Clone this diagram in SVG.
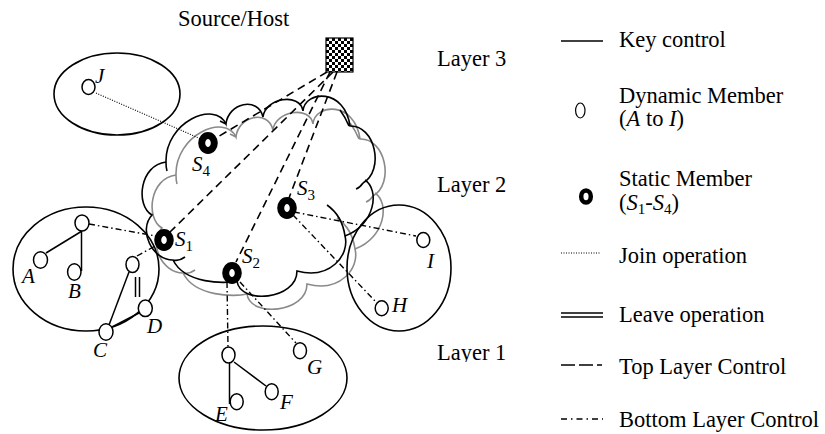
<svg xmlns="http://www.w3.org/2000/svg" width="825" height="434" viewBox="0 0 825 434">
  <defs>
    <pattern id="checker" x="326" y="38" width="6" height="6" patternUnits="userSpaceOnUse">
      <rect width="6" height="6" fill="#fff"/>
      <rect width="3" height="3" fill="#000"/>
      <rect x="3" y="3" width="3" height="3" fill="#000"/>
    </pattern>
    <clipPath id="clipLayer1">
      <rect x="430" y="340" width="100" height="22"/>
    </clipPath>
    <path id="cloud" d="M166,162 C165,122 215,100 226,124 C228,103 258,96 263,117 C265,98 300,92 303,111 C305,90 345,88 350,126 C375,125 385,170 363,183 M365,180 C380,190 375,225 345,236 C350,255 330,280 297,271 C297,300 240,305 237,281 C225,284 185,284 173,260 C152,260 138,230 152,215 C135,205 140,165 166,162 M167,171 C166,168 166,165 166,162 M327,205 C337,212 343,222 345,236 M363,183 C361,186 359,188 356,189 M173,260 C177,261 181,260 185,257 M220,121 C222,122 224,123 226,124 M340,110 C343,114 346,119 349,126"/>
  </defs>
  <style>
    text { font-family: "Liberation Serif", "Times New Roman", serif; fill: #000; }
    .lbl { font-size: 22.5px; }
    .it { font-style: italic; }
    .node-label { font-size: 21px; font-style: italic; }
    .sub { font-size: 15px; font-style: normal; }
    .group { fill: none; stroke: #000; stroke-width: 1.6; }
    .dyn { fill: #fff; stroke: #000; stroke-width: 1.5; }
    .stat { fill: #fff; stroke: #000; stroke-width: 7; }
    .key { fill: none; stroke: #000; stroke-width: 1.5; }
    .leave { fill: none; stroke: #000; stroke-width: 1.5; }
    .join { fill: none; stroke: #000; stroke-width: 1.1; stroke-dasharray: 1 1.5; }
    .top { fill: none; stroke: #000; stroke-width: 1.6; stroke-dasharray: 8 5; }
    .bottom { fill: none; stroke: #000; stroke-width: 1.4; stroke-dasharray: 6 3 1.5 3; }
    .cloud-gray { fill: none; stroke: #8a8a8a; stroke-width: 1.6; }
    .cloud-black { fill: none; stroke: #000; stroke-width: 1.6; }
  </style>

  <rect width="825" height="434" fill="#fff"/>

  <!-- Layer 2 cloud: grey outline behind, black outline in front -->
  <g id="cloud-layer">
    <use href="#cloud" class="cloud-gray" transform="translate(10,13)"/>
    <use href="#cloud" class="cloud-black"/>
  </g>

  <!-- Member groups -->
  <g id="group-J">
    <ellipse class="group" cx="117" cy="94" rx="63" ry="41"/>
  </g>
  <g id="group-ABCD">
    <ellipse class="group" cx="86" cy="269" rx="73" ry="62"/>
  </g>
  <g id="group-HI">
    <ellipse class="group" cx="399" cy="268" rx="52" ry="63"/>
  </g>
  <g id="group-EFG">
    <ellipse class="group" cx="263" cy="378" rx="84" ry="52"/>
  </g>

  <!-- Connectors -->
  <g id="connectors">
    <!-- top layer control from the source -->
    <line class="top" x1="327" y1="72" x2="216" y2="138"/>
    <line class="top" x1="333" y1="72" x2="170" y2="232"/>
    <line class="top" x1="330" y1="72" x2="236" y2="262"/>
    <line class="top" x1="337" y1="72" x2="289" y2="198"/>
    <!-- join operation -->
    <line class="join" x1="96" y1="93" x2="201" y2="139"/>
    <!-- bottom layer control -->
    <line class="bottom" x1="89" y1="224" x2="156" y2="236"/>
    <line class="bottom" x1="137" y1="256" x2="157" y2="245"/>
    <line class="bottom" x1="227" y1="282" x2="228" y2="347"/>
    <line class="bottom" x1="240" y1="282" x2="296" y2="343"/>
    <line class="bottom" x1="294" y1="212" x2="416" y2="236"/>
    <line class="bottom" x1="293" y1="215" x2="376" y2="302"/>
    <!-- key control -->
    <line class="key" x1="82" y1="231" x2="46" y2="253"/>
    <line class="key" x1="81.5" y1="231" x2="81.5" y2="271"/>
    <line class="key" x1="109" y1="325" x2="129" y2="272"/>
    <line class="key" x1="112" y1="327" x2="139" y2="313"/>
    <line class="key" x1="229.5" y1="363" x2="229.5" y2="404"/>
    <line class="key" x1="234" y1="362" x2="266" y2="386"/>
    <!-- leave operation -->
    <line class="leave" x1="135.5" y1="277" x2="135.5" y2="297"/>
    <line class="leave" x1="139.5" y1="277" x2="139.5" y2="297"/>
  </g>

  <!-- Source / host -->
  <g id="host">
    <rect x="326" y="38" width="27" height="34" fill="url(#checker)" stroke="#000" stroke-width="1.2"/>
    <text class="lbl" x="178" y="26">Source/Host</text>
  </g>

  <!-- Static members -->
  <g id="S4">
    <ellipse class="stat" cx="208" cy="143" rx="6.3" ry="7.5"/>
    <text class="node-label" x="192" y="171" font-size="22">S<tspan class="sub" dy="5">4</tspan></text>
  </g>
  <g id="S1">
    <ellipse class="stat" cx="164" cy="240" rx="6.3" ry="7.5"/>
    <text class="node-label" x="175" y="246">S<tspan class="sub" dy="5">1</tspan></text>
  </g>
  <g id="S2">
    <ellipse class="stat" cx="232" cy="273" rx="6.3" ry="7.5"/>
    <text class="node-label" x="242" y="263">S<tspan class="sub" dy="5">2</tspan></text>
  </g>
  <g id="S3">
    <ellipse class="stat" cx="287" cy="208" rx="6.3" ry="7.5"/>
    <text class="node-label" x="297" y="195">S<tspan class="sub" dy="5">3</tspan></text>
  </g>

  <!-- Dynamic members -->
  <g id="J">
    <ellipse class="dyn" cx="88.5" cy="87" rx="6.5" ry="7.5"/>
    <text class="node-label" x="95" y="83">J</text>
  </g>
  <g id="N1">
    <ellipse class="dyn" cx="82" cy="223" rx="7" ry="8"/>
  </g>
  <g id="A">
    <ellipse class="dyn" cx="40.5" cy="260" rx="7" ry="8.3"/>
    <text class="node-label" x="22" y="283">A</text>
  </g>
  <g id="B">
    <ellipse class="dyn" cx="74.3" cy="272" rx="6.7" ry="8.3"/>
    <text class="node-label" x="68" y="298">B</text>
  </g>
  <g id="N2">
    <ellipse class="dyn" cx="132.5" cy="264.5" rx="6.5" ry="8"/>
  </g>
  <g id="C">
    <ellipse class="dyn" cx="106" cy="332" rx="7" ry="8.3"/>
    <text class="node-label" x="93" y="357">C</text>
  </g>
  <g id="D">
    <ellipse class="dyn" cx="145.3" cy="308.3" rx="7" ry="8.3"/>
    <text class="node-label" x="147" y="333">D</text>
  </g>
  <g id="N3">
    <ellipse class="dyn" cx="228.5" cy="355" rx="6.5" ry="8"/>
  </g>
  <g id="E">
    <ellipse class="dyn" cx="236.7" cy="401.7" rx="6.5" ry="8"/>
    <text class="node-label" x="215" y="421">E</text>
  </g>
  <g id="F">
    <ellipse class="dyn" cx="271.7" cy="391.7" rx="6.5" ry="8"/>
    <text class="node-label" x="280" y="409">F</text>
  </g>
  <g id="G">
    <ellipse class="dyn" cx="300" cy="350.7" rx="6.5" ry="8"/>
    <text class="node-label" x="307" y="374">G</text>
  </g>
  <g id="I">
    <ellipse class="dyn" cx="423.3" cy="240" rx="6.5" ry="7.5"/>
    <text class="node-label" x="427" y="268">I</text>
  </g>
  <g id="H">
    <ellipse class="dyn" cx="381.7" cy="308.3" rx="6.5" ry="7.5"/>
    <text class="node-label" x="392" y="312">H</text>
  </g>

  <!-- Layer labels -->
  <g id="layers">
    <text class="lbl" x="437" y="66">Layer 3</text>
    <text class="lbl" x="437" y="192">Layer 2</text>
    <text class="lbl" x="437" y="360" clip-path="url(#clipLayer1)">Layer 1</text>
  </g>

  <!-- Legend -->
  <g id="legend">
    <line class="key" x1="561" y1="41" x2="603" y2="41"/>
    <text class="lbl" x="619" y="47">Key control</text>

    <ellipse fill="#fff" stroke="#000" stroke-width="1.2" cx="580.3" cy="110.5" rx="4.7" ry="7.5"/>
    <text class="lbl" x="619" y="103">Dynamic Member</text>
    <text class="lbl" x="619" y="126">(<tspan class="it">A</tspan> to <tspan class="it">I</tspan>)</text>

    <ellipse fill="#fff" stroke="#000" stroke-width="4.5" cx="586" cy="196.5" rx="4.8" ry="6"/>
    <text class="lbl" x="619" y="186">Static Member</text>
    <text class="lbl" x="619" y="210">(<tspan class="it">S</tspan><tspan class="sub" dy="4">1</tspan><tspan dy="-4">-</tspan><tspan class="it">S</tspan><tspan class="sub" dy="4">4</tspan><tspan dy="-4">)</tspan></text>

    <line class="join" x1="561" y1="253" x2="600" y2="253"/>
    <text class="lbl" x="619" y="263">Join operation</text>

    <line class="leave" x1="561" y1="313" x2="603" y2="313"/>
    <line class="leave" x1="561" y1="317" x2="603" y2="317"/>
    <text class="lbl" x="619" y="322">Leave operation</text>

    <line fill="none" stroke="#000" stroke-width="1.5" stroke-dasharray="14 4" x1="561" y1="365" x2="602" y2="365"/>
    <text class="lbl" x="619" y="374">Top Layer Control</text>

    <line fill="none" stroke="#000" stroke-width="1.3" stroke-dasharray="6 4 1.5 4" x1="561" y1="419" x2="603" y2="419"/>
    <text class="lbl" x="619" y="427">Bottom Layer Control</text>
  </g>
</svg>
